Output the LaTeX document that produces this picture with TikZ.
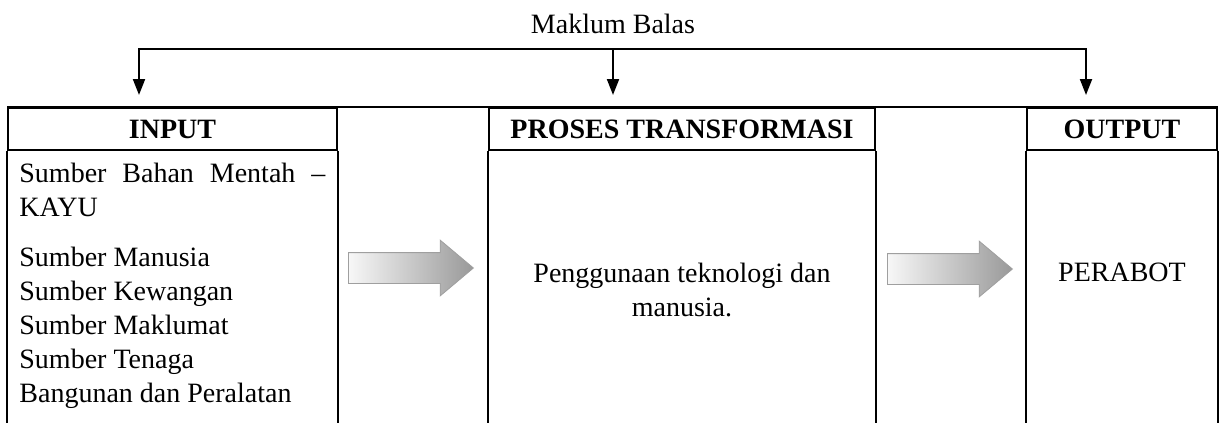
\documentclass[tikz,border=0pt]{standalone}
\usepackage{fontspec}
\setmainfont{Liberation Serif}
\usetikzlibrary{arrows.meta,shapes.arrows}
\begin{document}
\begin{tikzpicture}[
        x=0.5pt, y=-0.5pt,
        font=\fontsize{14}{17}\selectfont,
        head/.style={draw,line width=0.8pt,minimum height=21pt,inner sep=0pt,font=\fontsize{14}{17}\selectfont\bfseries},
        body/.style={inner sep=0pt,align=center},
        rule/.style={line width=0.8pt},
        fback/.style={line width=1pt,-{Triangle[length=8pt,width=6pt]}},
        flow/.style={single arrow,draw=gray!75,line width=0.4pt,left color=gray!6,right color=gray!80,
            minimum height=62.5pt,inner xsep=0pt,inner ysep=7.5pt,single arrow head extend=6.25pt,
            single arrow tip angle=80,anchor=tail},
        ]
    \useasboundingbox (0,0) rectangle (1220,423);
    \coordinate (bot) at (0,423);
    \coordinate (tip) at (0,95);
    % header cells
    \node (inH) [head, minimum width=164.5pt] at (172.5,129) {INPUT};
    \node (prH) [head, minimum width=193pt] at (682,129) {PROSES TRANSFORMASI};
    \node (outH) [head, minimum width=95pt] at (1122,129) {OUTPUT};
    \draw [rule] (inH.north west) -- (outH.north east);
    \foreach \c in {inH,prH,outH} {
        \draw [rule] (\c.south west) -- (\c.south west |- bot);
        \draw [rule] (\c.south east) -- (\c.south east |- bot);
    }
    % cell contents
    \node (inB) [inner sep=0pt, text width=153pt, align=justify, anchor=north west] at (19,163)
        {Sumber Bahan Mentah \textendash\linebreak KAYU\\[8pt]
         Sumber Manusia\\ Sumber Kewangan\\ Sumber Maklumat\\ Sumber Tenaga\\ Bangunan dan Peralatan};
    \node (prB) [body] at (682,290) {Penggunaan teknologi dan\\manusia.};
    \node (outB) [body] at (1122,272) {PERABOT};
    % flow arrows
    \node (f1) [flow] at (348,268) {};
    \node (f2) [flow] at (887,269) {};
    % feedback
    \node (fb) at (613,24) {Maklum Balas};
    \coordinate (fbL) at (139,49);
    \coordinate (fbM) at (613,49);
    \coordinate (fbR) at (1086,49);
    \draw [fback] (fbM) -- (fbL) -- (fbL |- tip);
    \draw [fback] (fbM) -- (fbR) -- (fbR |- tip);
    \draw [fback] (fbM) -- (fbM |- tip);
\end{tikzpicture}
\end{document}
